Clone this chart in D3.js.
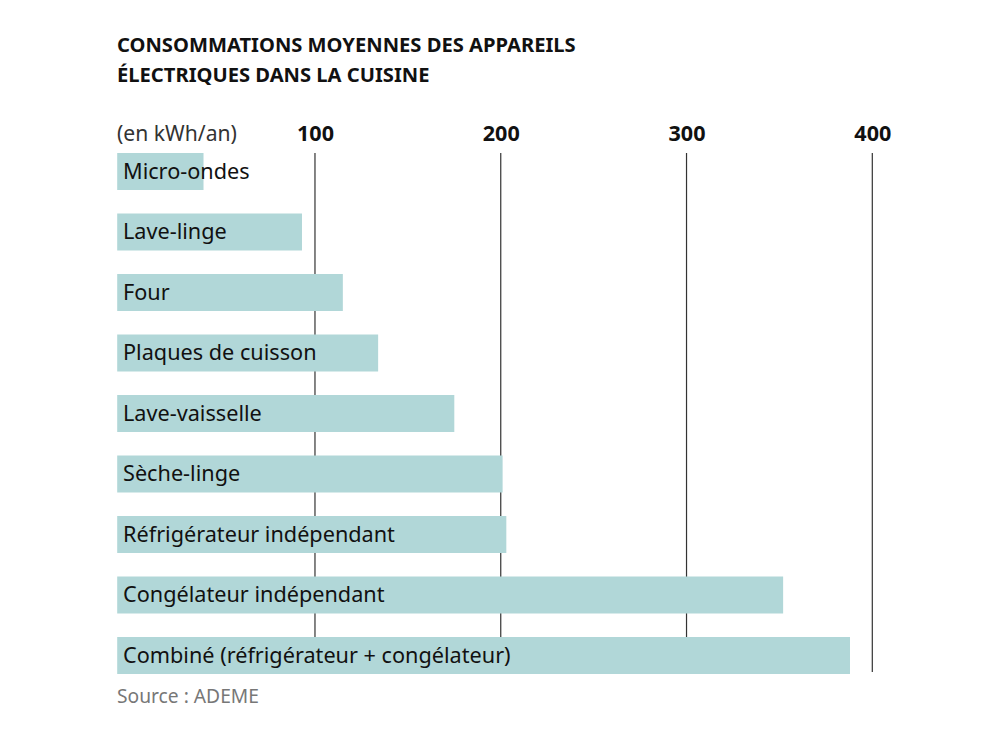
<!DOCTYPE html>
<html><head><meta charset="utf-8">
<script src="https://cdn.jsdelivr.net/npm/d3@7"></script>
<style>
html,body{margin:0;padding:0;background:#fff;}
svg{display:block;}
text{font-family:"Noto Sans","Open Sans",sans-serif;}
</style></head>
<body>
<svg id="chart" width="1000" height="750"></svg>
<script>
const categories = ["Micro-ondes","Lave-linge","Four","Plaques de cuisson","Lave-vaisselle","Sèche-linge","Réfrigérateur indépendant","Congélateur indépendant","Combiné (réfrigérateur + congélateur)"];
const values = [40, 93, 115, 134, 175, 201, 203, 352, 388];
const tickValues = [100, 200, 300, 400];
const titleLines = ["CONSOMMATIONS MOYENNES DES APPAREILS", "ÉLECTRIQUES DANS LA CUISINE"];
const unitLabel = "(en kWh/an)";
const sourceText = "Source : ADEME";

const svg = d3.select("#chart");
const x = d3.scaleLinear().domain([0, 400]).range([129.2, 872.3]);
const barPad = 12;
const y = d3.scaleBand().domain(categories).range([153, 674]).paddingInner(23.5/60.5).paddingOuter(0);

// fit font size of a group so that a reference text has a target width
function fit(sel, refNode, target, base) {
  const w = refNode.getComputedTextLength();
  const fs = base * target / w;
  sel.attr("font-size", fs);
  return fs;
}

// title
const title = svg.selectAll("text.title").data(titleLines).enter().append("text")
  .attr("class","title")
  .attr("x", 117).attr("y", (d,i) => 52 + i*30)
  .attr("font-size", 20).attr("font-weight", 700).attr("fill", "#111")
  .text(d => d);
fit(title, title.nodes()[0], 459, 20);

// grid lines
svg.append("g").selectAll("line").data(tickValues).enter().append("line")
  .attr("x1", d => x(d)).attr("x2", d => x(d))
  .attr("y1", 153).attr("y2", 672)
  .attr("stroke", "#333").attr("stroke-width", 1.2);

// tick labels via axis
const axis = d3.axisTop(x).tickValues(tickValues).tickSize(0).tickPadding(0);
const ag = svg.append("g").attr("transform", "translate(0,141)").call(axis);
ag.select(".domain").remove();
const tt = ag.selectAll("text").attr("font-size", 20).attr("font-weight", 700).attr("fill", "#111")
  .attr("dy", 0).style("font-family", "'Noto Sans','Open Sans',sans-serif");
fit(tt, tt.nodes()[0], 37, 20);

const unit = svg.append("text").attr("x", 117).attr("y", 141)
  .attr("font-size", 20).attr("fill", "#333").text(unitLabel);
fit(unit, unit.node(), 120, 20);

// bars
svg.append("g").selectAll("rect").data(values).enter().append("rect")
  .attr("x", x(0) - barPad)
  .attr("y", (d,i) => y(categories[i]))
  .attr("width", d => x(d) - x(0) + barPad)
  .attr("height", y.bandwidth())
  .attr("fill", "#b1d7d8");

// labels
const labels = svg.append("g").selectAll("text").data(categories).enter().append("text")
  .attr("x", 123)
  .attr("y", d => y(d) + y.bandwidth()/2 + 7)
  .attr("font-size", 21).attr("fill", "#111")
  .text(d => d);
fit(labels, labels.nodes()[8], 388, 21);

const src = svg.append("text").attr("x", 117).attr("y", 703)
  .attr("font-size", 20).attr("fill", "#777").text(sourceText);
fit(src, src.node(), 142, 20);
</script>
</body></html>
